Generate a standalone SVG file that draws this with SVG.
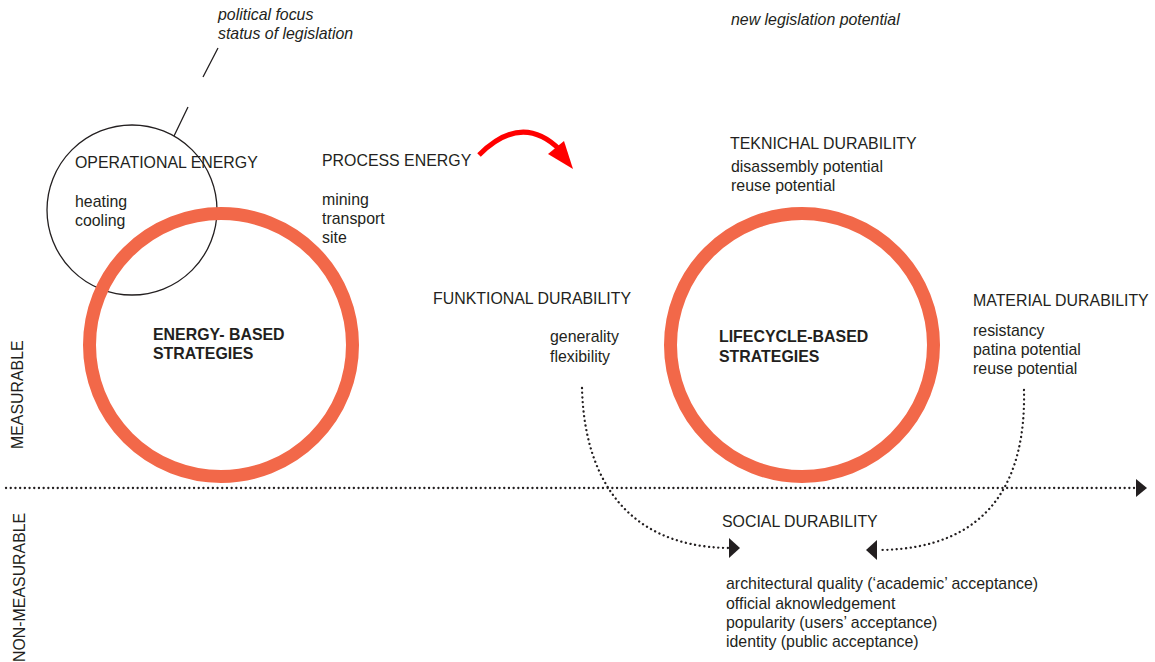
<svg xmlns="http://www.w3.org/2000/svg" width="1155" height="662" viewBox="0 0 1155 662">
<style>
text{font-family:"Liberation Sans",Arial,sans-serif;font-size:15.9px;fill:#231f20}
.it{font-style:italic}
.b{font-weight:bold}
.ring{fill:none;stroke:#f26849;stroke-width:13}
.dot{fill:none;stroke:#231f20;stroke-width:2.3;stroke-linecap:round;stroke-dasharray:0.1 4.6}
.head{fill:#231f20}
</style>
<rect width="1155" height="662" fill="#fff"/>
<g id="legislation-notes">
<text class="it" x="218" y="20">political focus</text>
<text class="it" x="218" y="39">status of legislation</text>
<text class="it" x="731" y="25">new legislation potential</text>
</g>
<g id="operational-energy">
<circle cx="132" cy="210" r="85" fill="none" stroke="#231f20" stroke-width="1.3"/>
<text x="75" y="168">OPERATIONAL ENERGY</text>
<text x="75" y="207">heating</text>
<text x="75" y="226">cooling</text>
</g>
<g id="energy-based">
<circle class="ring" cx="221" cy="345" r="131.5"/>
<text class="b" x="153" y="340">ENERGY- BASED</text>
<text class="b" x="153" y="359">STRATEGIES</text>
</g>
<g id="process-energy">
<text x="322" y="166">PROCESS ENERGY</text>
<text x="322" y="205">mining</text>
<text x="322" y="224">transport</text>
<text x="322" y="243">site</text>
</g>
<g id="funktional-durability">
<text x="433" y="304">FUNKTIONAL DURABILITY</text>
<text x="550" y="342">generality</text>
<text x="550" y="362">flexibility</text>
</g>
<g id="lifecycle-based">
<circle class="ring" cx="802" cy="345" r="131.5"/>
<text class="b" x="719" y="342">LIFECYCLE-BASED</text>
<text class="b" x="719" y="362">STRATEGIES</text>
</g>
<g id="teknichal-durability">
<text x="730" y="149">TEKNICHAL DURABILITY</text>
<text x="731" y="172">disassembly potential</text>
<text x="731" y="191">reuse potential</text>
</g>
<g id="material-durability">
<text x="973" y="306">MATERIAL DURABILITY</text>
<text x="973" y="336">resistancy</text>
<text x="973" y="355">patina potential</text>
<text x="973" y="374">reuse potential</text>
</g>
<g id="social-durability">
<text x="722" y="527">SOCIAL DURABILITY</text>
<text x="726" y="589">architectural quality (‘academic’ acceptance)</text>
<text x="726" y="609">official aknowledgement</text>
<text x="726" y="628">popularity (users’ acceptance)</text>
<text x="726" y="647">identity (public acceptance)</text>
</g>
<g id="axis-labels">
<text transform="translate(23,449) rotate(-90)">MEASURABLE</text>
<text transform="translate(25,662) rotate(-90)">NON-MEASURABLE</text>
</g>
<g id="connectors">
<path d="M174 136 L188 107 M203 77 L218 48" stroke="#231f20" stroke-width="1.3" fill="none"/>
<path d="M479 155 Q522 112 560 150" stroke="#ff0000" stroke-width="5" fill="none"/>
<polygon points="564,141 548,154 573,169" fill="#ff0000"/>
<path class="dot" d="M6 488 L1134 488"/>
<polygon class="head" points="1136,479 1147,488 1136,497"/>
<path class="dot" d="M582 388 C584 470 620 546 728 548"/>
<polygon class="head" points="729,538 740,548 729,558"/>
<path class="dot" d="M1024 390 C1026 480 990 549 879 550"/>
<polygon class="head" points="877,540 866,550 877,560"/>
</g>
</svg>
